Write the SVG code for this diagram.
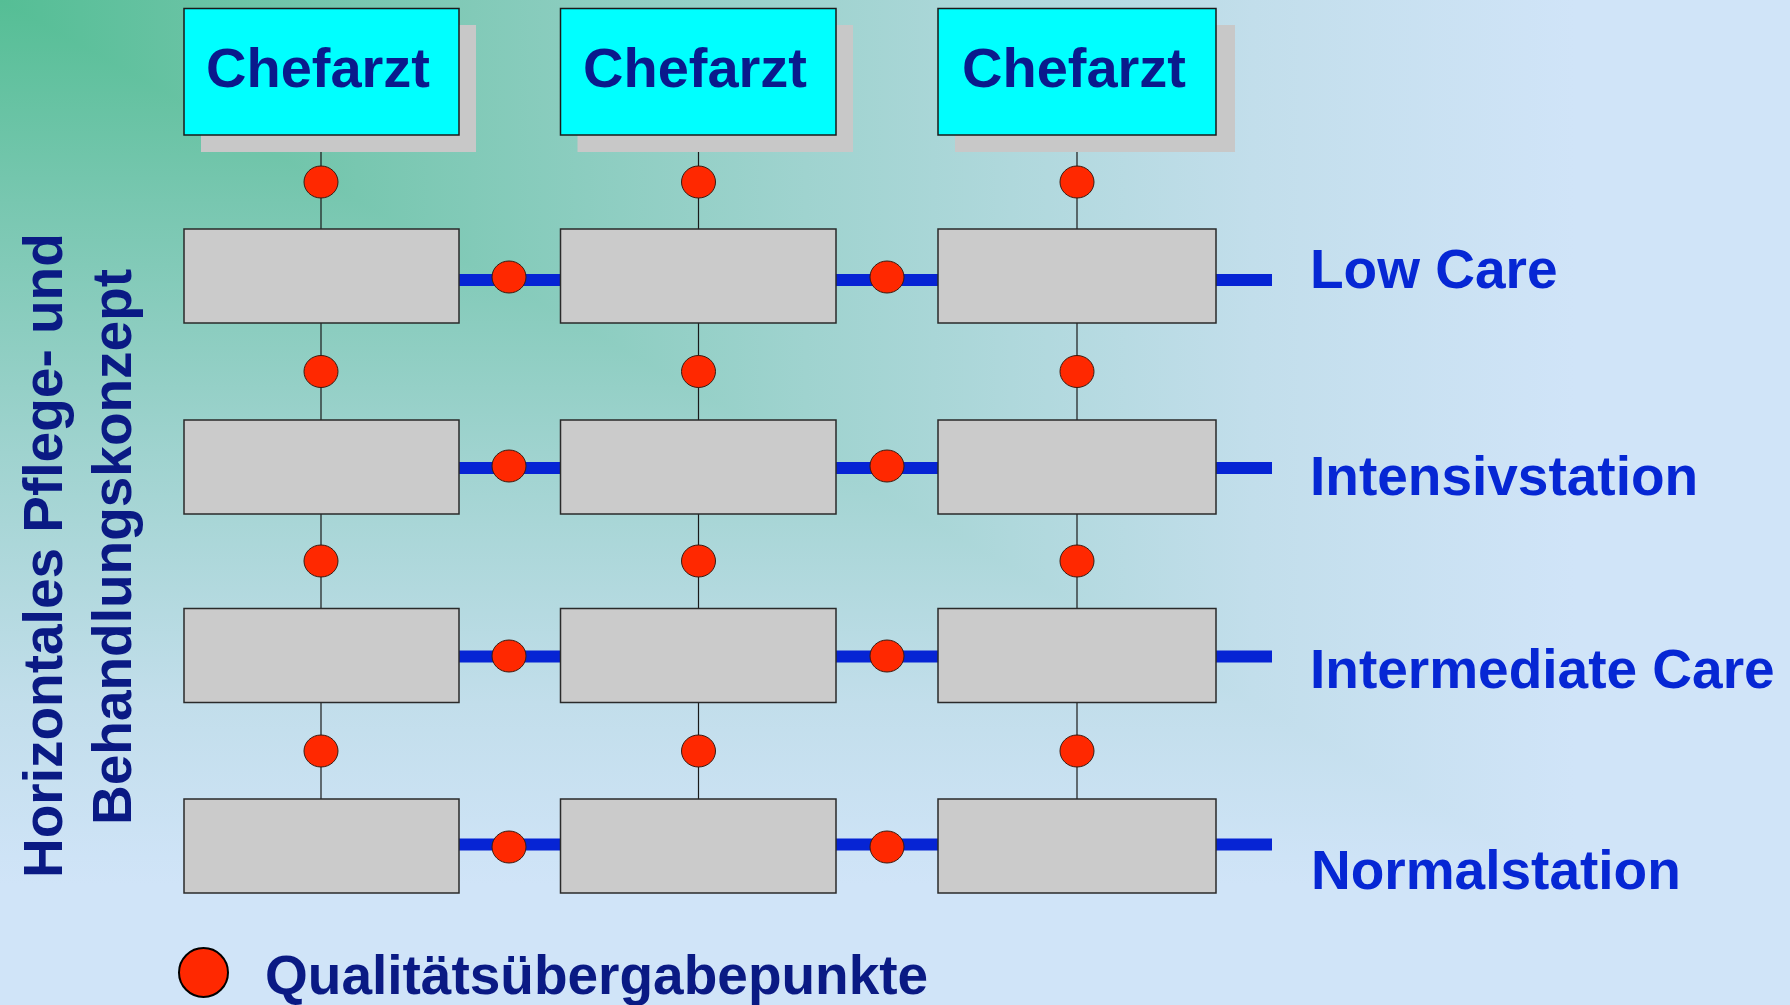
<svg xmlns="http://www.w3.org/2000/svg" width="1790" height="1005" viewBox="0 0 1790 1005">
  <style>
    .chef { fill: #00ffff; stroke: #1a1a1a; stroke-width: 1.5; }
    .shadow { fill: #c8c8c8; }
    .box { fill: #cbcbcb; stroke: #2a2a2a; stroke-width: 1.5; }
    .vline { stroke: #1a1a1a; stroke-width: 1.2; fill: none; }
    .bar { stroke: #0624d4; stroke-width: 12; fill: none; }
    .dot { fill: #ff2800; stroke: #3a1a10; stroke-width: 1; }
    .chefText { font-family: "Liberation Sans", Arial, sans-serif; font-weight: bold; font-size: 56px; fill: #0a1a8c; text-anchor: middle; }
    .label { font-family: "Liberation Sans", Arial, sans-serif; font-weight: bold; font-size: 55px; fill: #0627d4; }
    .navy { font-family: "Liberation Sans", Arial, sans-serif; font-weight: bold; font-size: 55px; fill: #0a1a84; }
  </style>
  <defs>
    <linearGradient id="gv" x1="0" y1="0" x2="0" y2="1">
      <stop offset="0" stop-color="#55be95"/>
      <stop offset="0.2" stop-color="#78c7b0"/>
      <stop offset="0.45" stop-color="#9fd3cf"/>
      <stop offset="0.7" stop-color="#c2deeb"/>
      <stop offset="0.88" stop-color="#d0e4f8"/>
      <stop offset="1" stop-color="#d0e4f8"/>
    </linearGradient>
    <linearGradient id="gh" x1="0" y1="0" x2="1" y2="0">
      <stop offset="0" stop-color="#55be95"/>
      <stop offset="0.2" stop-color="#78c7b0"/>
      <stop offset="0.45" stop-color="#9fd3cf"/>
      <stop offset="0.7" stop-color="#c2deeb"/>
      <stop offset="0.88" stop-color="#d0e4f8"/>
      <stop offset="1" stop-color="#d0e4f8"/>
    </linearGradient>
    <clipPath id="upper">
      <polygon points="0,0 1790,0 1790,1005"/>
    </clipPath>
  </defs>

  <g id="background">
    <rect x="0" y="0" width="1790" height="1005" fill="url(#gv)"/>
    <rect x="0" y="0" width="1790" height="1005" fill="url(#gh)" clip-path="url(#upper)"/>
  </g>

  <g id="connectors">
    <line class="vline" x1="321" y1="135" x2="321" y2="799"/>
    <line class="vline" x1="698.5" y1="135" x2="698.5" y2="799"/>
    <line class="vline" x1="1077" y1="135" x2="1077" y2="799"/>
    <line class="bar" x1="459" y1="280" x2="561" y2="280"/>
    <line class="bar" x1="836" y1="280" x2="938" y2="280"/>
    <line class="bar" x1="1216" y1="280" x2="1272" y2="280"/>
    <line class="bar" x1="459" y1="468" x2="561" y2="468"/>
    <line class="bar" x1="836" y1="468" x2="938" y2="468"/>
    <line class="bar" x1="1216" y1="468" x2="1272" y2="468"/>
    <line class="bar" x1="459" y1="656.5" x2="561" y2="656.5"/>
    <line class="bar" x1="836" y1="656.5" x2="938" y2="656.5"/>
    <line class="bar" x1="1216" y1="656.5" x2="1272" y2="656.5"/>
    <line class="bar" x1="459" y1="844.5" x2="561" y2="844.5"/>
    <line class="bar" x1="836" y1="844.5" x2="938" y2="844.5"/>
    <line class="bar" x1="1216" y1="844.5" x2="1272" y2="844.5"/>
  </g>

  <g id="chef1">
    <rect class="shadow" x="201" y="25" width="275" height="127"/>
    <rect class="chef" x="184" y="8.5" width="275" height="126.5"/>
    <text class="chefText" x="318" y="87">Chefarzt</text>
  </g>
  <g id="chef2">
    <rect class="shadow" x="577.5" y="25" width="275.5" height="127"/>
    <rect class="chef" x="560.5" y="8.5" width="275.5" height="126.5"/>
    <text class="chefText" x="695" y="87">Chefarzt</text>
  </g>
  <g id="chef3">
    <rect class="shadow" x="955" y="25" width="280" height="127"/>
    <rect class="chef" x="938" y="8.5" width="278" height="126.5"/>
    <text class="chefText" x="1074" y="87">Chefarzt</text>
  </g>

  <g id="r1c1"><rect class="box" x="184" y="229" width="275" height="94"/></g>
  <g id="r1c2"><rect class="box" x="560.5" y="229" width="275.5" height="94"/></g>
  <g id="r1c3"><rect class="box" x="938" y="229" width="278" height="94"/></g>
  <g id="r2c1"><rect class="box" x="184" y="420" width="275" height="94"/></g>
  <g id="r2c2"><rect class="box" x="560.5" y="420" width="275.5" height="94"/></g>
  <g id="r2c3"><rect class="box" x="938" y="420" width="278" height="94"/></g>
  <g id="r3c1"><rect class="box" x="184" y="608.5" width="275" height="94"/></g>
  <g id="r3c2"><rect class="box" x="560.5" y="608.5" width="275.5" height="94"/></g>
  <g id="r3c3"><rect class="box" x="938" y="608.5" width="278" height="94"/></g>
  <g id="r4c1"><rect class="box" x="184" y="799" width="275" height="94"/></g>
  <g id="r4c2"><rect class="box" x="560.5" y="799" width="275.5" height="94"/></g>
  <g id="r4c3"><rect class="box" x="938" y="799" width="278" height="94"/></g>

  <g id="handover-points">
    <ellipse class="dot" cx="321" cy="182" rx="17" ry="16"/>
    <ellipse class="dot" cx="698.5" cy="182" rx="17" ry="16"/>
    <ellipse class="dot" cx="1077" cy="182" rx="17" ry="16"/>
    <ellipse class="dot" cx="321" cy="371.5" rx="17" ry="16"/>
    <ellipse class="dot" cx="698.5" cy="371.5" rx="17" ry="16"/>
    <ellipse class="dot" cx="1077" cy="371.5" rx="17" ry="16"/>
    <ellipse class="dot" cx="321" cy="561" rx="17" ry="16"/>
    <ellipse class="dot" cx="698.5" cy="561" rx="17" ry="16"/>
    <ellipse class="dot" cx="1077" cy="561" rx="17" ry="16"/>
    <ellipse class="dot" cx="321" cy="751" rx="17" ry="16"/>
    <ellipse class="dot" cx="698.5" cy="751" rx="17" ry="16"/>
    <ellipse class="dot" cx="1077" cy="751" rx="17" ry="16"/>
    <ellipse class="dot" cx="509" cy="277" rx="17" ry="16"/>
    <ellipse class="dot" cx="887" cy="277" rx="17" ry="16"/>
    <ellipse class="dot" cx="509" cy="466" rx="17" ry="16"/>
    <ellipse class="dot" cx="887" cy="466" rx="17" ry="16"/>
    <ellipse class="dot" cx="509" cy="656" rx="17" ry="16"/>
    <ellipse class="dot" cx="887" cy="656" rx="17" ry="16"/>
    <ellipse class="dot" cx="509" cy="847" rx="17" ry="16"/>
    <ellipse class="dot" cx="887" cy="847" rx="17" ry="16"/>
  </g>

  <g id="row-labels">
    <text class="label" x="1310" y="288">Low Care</text>
    <text class="label" x="1310" y="495">Intensivstation</text>
    <text class="label" x="1310" y="688">Intermediate Care</text>
    <text class="label" x="1311" y="889">Normalstation</text>
  </g>

  <g id="side-title">
    <text class="navy" transform="translate(62,878) rotate(-90)">Horizontales Pflege- und</text>
    <text class="navy" transform="translate(131,825) rotate(-90)">Behandlungskonzept</text>
  </g>

  <g id="legend">
    <circle cx="203.5" cy="972.5" r="24.5" fill="#ff2800" stroke="#000" stroke-width="2"/>
    <text class="navy" x="265" y="994">Qualitätsübergabepunkte</text>
  </g>
</svg>
